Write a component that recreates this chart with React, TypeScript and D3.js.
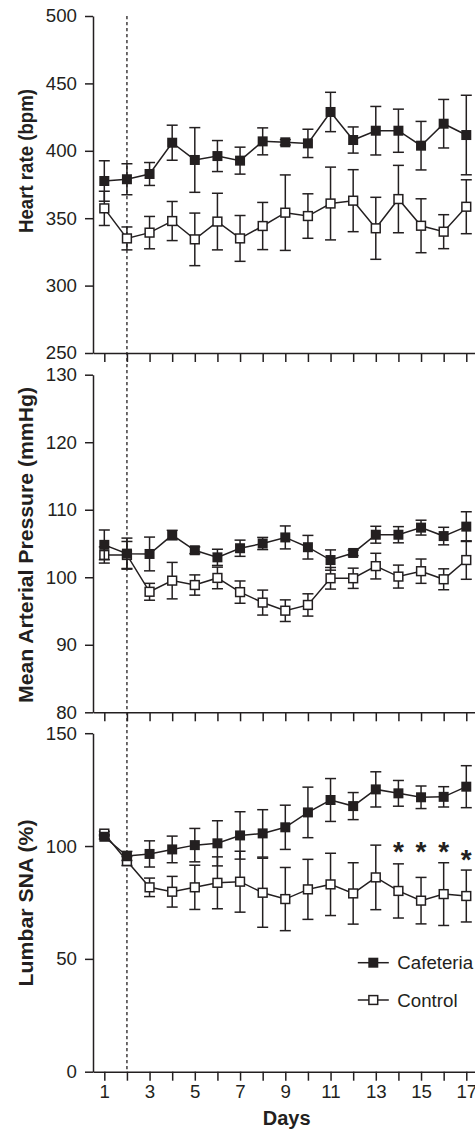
import React, { useRef, useEffect } from "react";
import * as d3 from "d3";

// Days of the protocol (x categories)
const days = [1, 2, 3, 4, 5, 6, 7, 8, 9, 10, 11, 12, 13, 14, 15, 16, 17];
const labelledDays = [1, 3, 5, 7, 9, 11, 13, 15, 17];
const dietStartDay = 2;

// Heart rate (bpm), mean ± SEM
const hrCaf = [377.6, 378.9, 382.8, 406, 393.2, 396.1, 392.7, 407, 406.3, 405.5, 428.8, 408, 414.9, 414.9, 403.8, 420.1, 411.7];
const hrCafErr = [15, 11.5, 8.5, 13, 24, 11.5, 10, 10, 2, 10.5, 14.6, 9.7, 18, 16, 18, 18, 29.5];
const hrCon = [357.3, 335, 339.3, 347.9, 334.3, 347.5, 335, 344.2, 354.1, 351.6, 360.9, 363, 342.5, 364.2, 344.4, 340, 358.5];
const hrConErr = [12.7, 8.5, 12, 14.5, 19.5, 21, 17, 17.5, 28, 16.5, 27, 23, 23, 25, 20, 12.6, 20];
const hrTicks = [250, 300, 350, 400, 450, 500];

// Mean arterial pressure (mmHg)
const mapCaf = [104.8, 103.5, 103.45, 106.25, 104.0, 102.95, 104.3, 105.0, 105.9, 104.45, 102.55, 103.6, 106.3, 106.3, 107.35, 106.1, 107.5];
const mapCafErr = [2.2, 2.3, 2.5, 0.7, 0.5, 1.2, 1.2, 0.9, 1.7, 1.75, 1.5, 0.4, 1.25, 1.2, 1.1, 1.3, 2.2];
const mapCon = [103.3, 103.3, 97.85, 99.5, 98.85, 99.9, 97.8, 96.25, 95.05, 95.9, 99.85, 99.85, 101.65, 100.1, 100.9, 99.7, 102.55];
const mapConErr = [1.2, 2, 1.25, 2.7, 1.5, 1.6, 1.65, 1.85, 1.6, 1.65, 1.6, 1.5, 1.9, 1.7, 1.8, 1.55, 2.85];
const mapTicks = [80, 90, 100, 110, 120, 130];

// Lumbar SNA (% of baseline)
const snaCaf = [104.1, 95.6, 96.5, 98.5, 100.4, 101.2, 104.7, 105.6, 108.3, 114.9, 120.4, 117.7, 125.1, 123.35, 121.6, 121.8, 126.3];
const snaCafErr = [1, 2, 5.8, 5.9, 7.4, 10, 10.5, 10.5, 9.8, 11.2, 9.5, 6, 7.8, 5.7, 5, 4.5, 9.3];
const snaCon = [105.5, 93.35, 81.7, 79.75, 81.7, 83.7, 84.2, 79.3, 76.5, 80.8, 83.0, 79.0, 86.1, 80.1, 75.8, 78.7, 77.85];
const snaConErr = [1, 2, 4.1, 6.8, 9.8, 11.5, 13.5, 15.3, 14, 13.3, 13.8, 13.6, 14.3, 12, 10.3, 13.9, 11.5];
const snaTicks = [0, 50, 100, 150];

// significance markers (lumbar SNA panel)
const sigDays = [14, 15, 16, 17];
const sigLevels = [100.4, 100.4, 100.4, 97];

const INK = "#231f20";
const FONT = "'Liberation Sans', Arial, Helvetica, sans-serif";

export default function App() {
  const svgRef = useRef<SVGSVGElement>(null);

  useEffect(() => {
    const svg = d3.select(svgRef.current);
    svg.selectAll("*").remove();

    const width = 475;
    const height = 1132;
    svg.attr("width", width).attr("height", height);

    const x = d3.scaleLinear().domain([0.5, 17.5]).range([93, 477.6]);

    const panels = [
      { title: "Heart rate (bpm)", domain: [250, 500], range: [353, 16], ticks: hrTicks,
        caf: hrCaf, cafErr: hrCafErr, con: hrCon, conErr: hrConErr, titleY: 161, titleLen: 144 },
      { title: "Mean Arterial Pressure (mmHg)", domain: [80, 130], range: [712.3, 374.7], ticks: mapTicks,
        caf: mapCaf, cafErr: mapCafErr, con: mapCon, conErr: mapConErr, titleY: 545, titleLen: 316 },
      { title: "Lumbar SNA (%)", domain: [0, 150], range: [1071.7, 733.2], ticks: snaTicks,
        caf: snaCaf, cafErr: snaCafErr, con: snaCon, conErr: snaConErr, titleY: 903, titleLen: 167 },
    ];

    const root = svg.append("g").attr("font-family", FONT).attr("fill", INK);

    // dashed line marking start of diet
    root.append("line")
      .attr("x1", x(dietStartDay)).attr("x2", x(dietStartDay))
      .attr("y1", panels[0].range[1]).attr("y2", panels[2].range[0])
      .attr("stroke", INK).attr("stroke-width", 1.3)
      .attr("stroke-dasharray", "3.2,2.8");

    const styleAxis = (g: any) => {
      g.select(".domain").attr("stroke", INK).attr("stroke-width", 1.5);
      g.selectAll(".tick line").attr("stroke", INK).attr("stroke-width", 1.5);
      g.selectAll(".tick text")
        .attr("fill", INK)
        .attr("font-size", 18.7)
        .attr("font-family", FONT);
    };

    panels.forEach((p, pi) => {
      const y = d3.scaleLinear().domain(p.domain).range(p.range);
      const isLast = pi === panels.length - 1;

      // y axis
      root.append("g")
        .attr("transform", `translate(${x(0.5)},0)`)
        .call(d3.axisLeft(y).tickValues(p.ticks).tickSize(8).tickPadding(8).tickSizeOuter(0))
        .call(styleAxis);

      // x axis
      root.append("g")
        .attr("transform", `translate(0,${p.range[0]})`)
        .call(
          d3.axisBottom(x)
            .tickValues(days)
            .tickSize(9)
            .tickPadding(4.3)
            .tickSizeOuter(0)
            .tickFormat((d: any) => (isLast && labelledDays.includes(d) ? String(d) : ""))
        )
        .call(styleAxis);

      // axis title
      root.append("text")
        .attr("transform", `translate(33,${p.titleY}) rotate(-90)`)
        .attr("text-anchor", "middle")
        .attr("font-size", 21)
        .attr("font-weight", "bold")
        .attr("textLength", p.titleLen)
        .attr("lengthAdjust", "spacingAndGlyphs")
        .text(p.title);

      const series = [
        { vals: p.con, errs: p.conErr, filled: false },
        { vals: p.caf, errs: p.cafErr, filled: true },
      ];

      series.forEach((s) => {
        const g = root.append("g");
        const rows = days.map((d, i) => ({ day: d, v: s.vals[i], e: s.errs[i] }));

        // error bars
        const eb = g.selectAll("g.eb").data(rows).join("g").attr("class", "eb")
          .attr("stroke", INK).attr("stroke-width", 1.5);
        eb.append("line")
          .attr("x1", (d) => x(d.day)).attr("x2", (d) => x(d.day))
          .attr("y1", (d) => y(d.v - d.e)).attr("y2", (d) => y(d.v + d.e));
        eb.append("line")
          .attr("x1", (d) => x(d.day) - 5.5).attr("x2", (d) => x(d.day) + 5.5)
          .attr("y1", (d) => y(d.v + d.e)).attr("y2", (d) => y(d.v + d.e));
        eb.append("line")
          .attr("x1", (d) => x(d.day) - 5.5).attr("x2", (d) => x(d.day) + 5.5)
          .attr("y1", (d) => y(d.v - d.e)).attr("y2", (d) => y(d.v - d.e));

        // connecting line
        g.append("path")
          .datum(rows)
          .attr("fill", "none")
          .attr("stroke", INK)
          .attr("stroke-width", 1.5)
          .attr("d", d3.line<any>().x((d) => x(d.day)).y((d) => y(d.v)));

        // markers
        g.selectAll("rect.mk").data(rows).join("rect").attr("class", "mk")
          .attr("x", (d) => x(d.day) - (s.filled ? 5 : 4.4))
          .attr("y", (d) => y(d.v) - (s.filled ? 5 : 4.4))
          .attr("width", s.filled ? 10 : 8.8)
          .attr("height", s.filled ? 10 : 8.8)
          .attr("fill", s.filled ? INK : "#fff")
          .attr("stroke", INK)
          .attr("stroke-width", s.filled ? 0 : 1.5);
      });

      if (isLast) {
        // significance asterisks
        root.selectAll("text.sig")
          .data(sigDays.map((d, i) => ({ day: d, lv: sigLevels[i] })))
          .join("text")
          .attr("class", "sig")
          .attr("x", (d) => x(d.day))
          .attr("y", (d) => y(d.lv) + 0.575 * 28)
          .attr("text-anchor", "middle")
          .attr("font-size", 28)
          .attr("font-weight", "bold")
          .text("*");

        // x axis title
        root.append("text")
          .attr("x", 286.7)
          .attr("y", 1125)
          .attr("text-anchor", "middle")
          .attr("font-size", 20)
          .attr("font-weight", "bold")
          .text("Days");

        // legend
        const legend = [
          { name: "Cafeteria", filled: true, y: 962.7 },
          { name: "Control", filled: false, y: 1000 },
        ];
        const lg = root.selectAll("g.lg").data(legend).join("g").attr("class", "lg")
          .attr("transform", (d) => `translate(373.3,${d.y})`);
        lg.append("line").attr("x1", -15.5).attr("x2", 15.5)
          .attr("stroke", INK).attr("stroke-width", 1.5);
        lg.append("rect")
          .attr("x", (d) => (d.filled ? -5 : -4.4))
          .attr("y", (d) => (d.filled ? -5 : -4.4))
          .attr("width", (d) => (d.filled ? 10 : 8.8))
          .attr("height", (d) => (d.filled ? 10 : 8.8))
          .attr("fill", (d) => (d.filled ? INK : "#fff"))
          .attr("stroke", INK)
          .attr("stroke-width", (d) => (d.filled ? 0 : 1.5));
        lg.append("text")
          .attr("x", 24)
          .attr("dy", "0.35em")
          .attr("font-size", 18.7)
          .text((d) => d.name);
      }
    });
  }, []);

  return (
    <div style={{ position: "absolute", left: 0, top: 0 }}>
      <svg ref={svgRef} style={{ display: "block", background: "#fff" }} />
    </div>
  );
}
